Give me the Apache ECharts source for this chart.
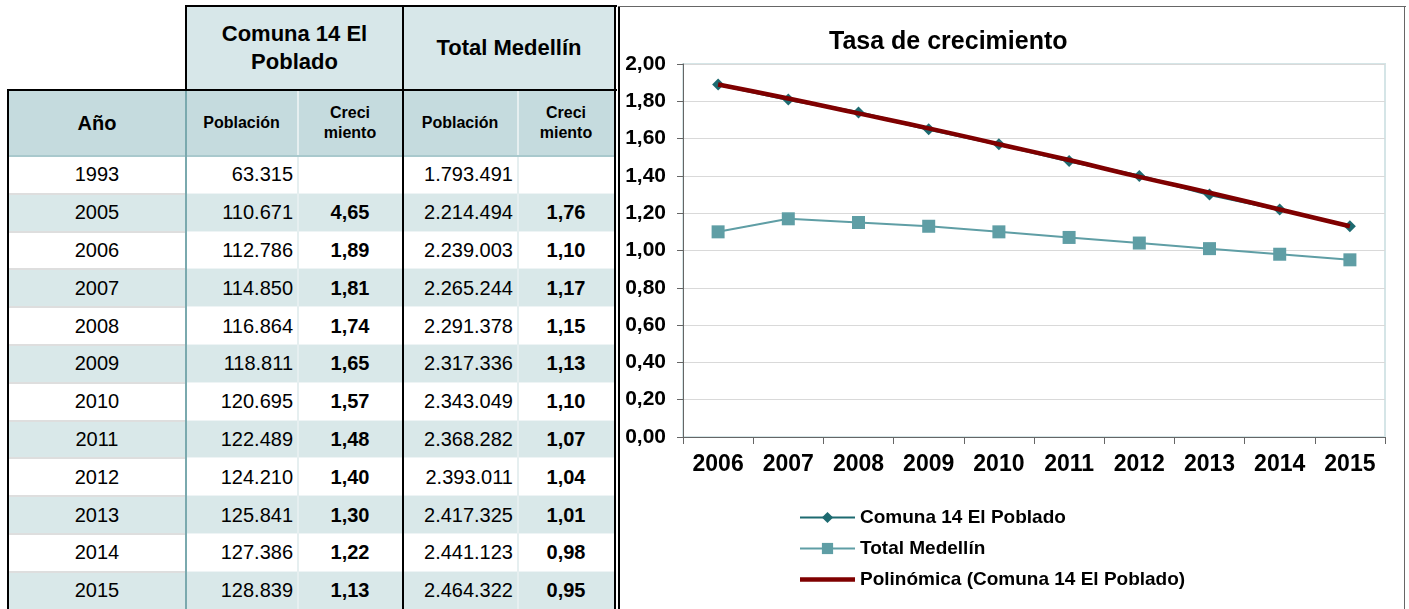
<!DOCTYPE html>
<html>
<head>
<meta charset="utf-8">
<script src="https://cdn.jsdelivr.net/npm/echarts@6/dist/echarts.min.js"></script>
<style>
  body { margin: 0; width: 1409px; height: 609px; background: #fff; position: relative; overflow: hidden;
         font-family: "Liberation Sans", Arial, sans-serif; color: #000; }
  .cell { position: absolute; box-sizing: border-box; display: flex; align-items: center; justify-content: center; }
  .line { position: absolute; }
  #chart { position: absolute; left: 619px; top: 7px; width: 786px; height: 602px; }
</style>
</head>
<body>
<div id="tabla"></div>
<div id="chart"></div>
<script>
// datos de la tabla
const anios = ['1993', '2005', '2006', '2007', '2008', '2009', '2010', '2011', '2012', '2013', '2014', '2015']
const poblacionComuna = [63315, 110671, 112786, 114850, 116864, 118811, 120695, 122489, 124210, 125841, 127386, 128839]
const crecimientoComuna = [null, 4.65, 1.89, 1.81, 1.74, 1.65, 1.57, 1.48, 1.40, 1.30, 1.22, 1.13]
const poblacionMedellin = [1793491, 2214494, 2239003, 2265244, 2291378, 2317336, 2343049, 2368282, 2393011, 2417325, 2441123, 2464322]
const crecimientoMedellin = [null, 1.76, 1.10, 1.17, 1.15, 1.13, 1.10, 1.07, 1.04, 1.01, 0.98, 0.95]

// datos del grafico
const categorias = ['2006', '2007', '2008', '2009', '2010', '2011', '2012', '2013', '2014', '2015']
const tasaComuna = crecimientoComuna.slice(2)
const tasaMedellin = crecimientoMedellin.slice(2)
// linea de tendencia polinómica
const tendencia = [1.89, 1.815, 1.735, 1.655, 1.57, 1.485, 1.395, 1.31, 1.22, 1.13]
const ticksY = [0, 0.2, 0.4, 0.6, 0.8, 1.0, 1.2, 1.4, 1.6, 1.8, 2.0]

const miles = n => String(n).replace(/\B(?=(\d{3})+(?!\d))/g, '.')
const coma = v => v == null ? '' : v.toFixed(2).replace('.', ',')

// ---- tabla ----
const tabla = document.getElementById('tabla')
function cell(x, y, w, h, html, style) {
  const d = document.createElement('div')
  d.className = 'cell'
  d.style.cssText = `left:${x}px;top:${y}px;width:${w}px;height:${h}px;` + (style || '')
  d.innerHTML = html
  tabla.appendChild(d)
}
function line(x, y, w, h, color) {
  const d = document.createElement('div')
  d.className = 'line'
  d.style.cssText = `left:${x}px;top:${y}px;width:${w}px;height:${h}px;background:${color};`
  tabla.appendChild(d)
}
const cols = [8, 186, 297, 403, 517, 615]
const rowH = 37.8
const top0 = 156
const bgHead1 = '#d7e7e9'
const bgHead2 = '#c5dbde'
const bgAlt = '#d9e8e9'

cell(186, 6, 217, 84, 'Comuna 14 El<br>Poblado', `background:${bgHead1};font-weight:bold;font-size:22px;text-align:center;line-height:28px;`)
cell(403, 6, 212, 84, 'Total Medellín', `background:${bgHead1};font-weight:bold;font-size:22px;`)
const head2 = ['Año', 'Población', 'Creci<br>miento', 'Población', 'Creci<br>miento']
head2.forEach((t, i) => {
  cell(cols[i], 90, cols[i + 1] - cols[i], 66, t,
    `background:${bgHead2};font-weight:bold;text-align:center;line-height:20px;font-size:${i === 0 ? 20 : 16}px;`)
})

anios.forEach((a, r) => {
  const y = top0 + r * rowH
  const bg = r % 2 === 1 ? bgAlt : '#fff'
  cell(8, y, 178, rowH, a, `background:${bg};font-size:20px;`)
  cell(186, y, 111, rowH, miles(poblacionComuna[r]), `background:${bg};font-size:20px;justify-content:flex-end;padding-right:4px;`)
  cell(297, y, 106, rowH, coma(crecimientoComuna[r]), `background:${bg};font-size:20px;font-weight:bold;`)
  cell(403, y, 114, rowH, miles(poblacionMedellin[r]), `background:${bg};font-size:20px;justify-content:flex-end;padding-right:4px;`)
  cell(517, y, 98, rowH, coma(crecimientoMedellin[r]), `background:${bg};font-size:20px;font-weight:bold;`)
  line(8, y - 1, 178, 2, '#dedede')
  line(186, y - 1, 429, 1, '#eef4f5')
})
line(297, 90, 2, 519, '#e6eff0')
line(517, 90, 2, 519, '#e6eff0')
line(8, 155, 607, 2, '#a9c9cd')
line(185, 90, 2, 519, '#7aa9ae')
// bordes negros
line(185, 5, 2, 86, '#000')
line(185, 5, 432, 2, '#000')
line(7, 89, 610, 2, '#000')
line(7, 89, 2, 520, '#000')
line(402, 5, 2, 604, '#000')
line(614, 5, 2, 604, '#000')
// marco del grafico
line(618, 6, 2, 603, '#000')
line(618, 6, 788, 1, '#666')
line(1404, 6, 1, 603, '#666')

// ---- grafico ----
const chart = echarts.init(document.getElementById('chart'))
const fuente = '"Liberation Sans", Arial, sans-serif'
chart.setOption({
  animation: false,
  textStyle: { fontFamily: fuente },
  title: {
    text: 'Tasa de crecimiento',
    left: 205,
    top: 18,
    textStyle: { fontSize: 25, fontWeight: 'bold', color: '#000', fontFamily: fuente }
  },
  grid: {
    left: 64,
    right: 20,
    top: 57,
    height: 373,
    show: true,
    borderColor: '#d5e5e7',
    borderWidth: 2
  },
  legend: {
    orient: 'vertical',
    left: 175,
    top: 496,
    itemWidth: 55,
    itemHeight: 14,
    itemGap: 12,
    textStyle: { fontSize: 19, fontWeight: 'bold', color: '#000', fontFamily: fuente },
    data: [
      'Comuna 14 El Poblado',
      'Total Medellín',
      { name: 'Polinómica (Comuna 14 El Poblado)', icon: 'path://M0,0 H55 V4.5 H0 Z' }
    ]
  },
  xAxis: {
    type: 'category',
    data: categorias,
    boundaryGap: true,
    axisLine: { lineStyle: { color: '#666', width: 1 } },
    axisTick: { show: true, length: 7, lineStyle: { color: '#666' } },
    axisLabel: { fontSize: 23, fontWeight: 'bold', color: '#000', margin: 16, fontFamily: fuente }
  },
  yAxis: {
    type: 'value',
    min: 0,
    max: 2,
    interval: 0.2,
    axisLine: { show: true, lineStyle: { color: '#666', width: 1 } },
    axisTick: { show: true, length: 6, lineStyle: { color: '#666' } },
    splitLine: { lineStyle: { color: '#d9d9d9', width: 1 } },
    axisLabel: {
      fontSize: 21, fontWeight: 'bold', color: '#000', margin: 17, fontFamily: fuente,
      formatter: v => ticksY.indexOf(Math.round(v * 10) / 10) >= 0 ? coma(v) : ''
    }
  },
  series: [
    {
      name: 'Comuna 14 El Poblado',
      type: 'line',
      data: tasaComuna,
      symbol: 'diamond',
      symbolSize: 12,
      z: 3,
      itemStyle: { color: '#1d6a70' },
      lineStyle: { color: '#1d6a70', width: 3 }
    },
    {
      name: 'Total Medellín',
      type: 'line',
      data: tasaMedellin,
      symbol: 'rect',
      symbolSize: 13,
      z: 2,
      itemStyle: { color: '#5f9ea5' },
      lineStyle: { color: '#5f9ea5', width: 2 }
    },
    {
      name: 'Polinómica (Comuna 14 El Poblado)',
      type: 'line',
      data: tendencia,
      symbol: 'none',
      smooth: true,
      z: 4,
      itemStyle: { color: '#7f0000' },
      lineStyle: { color: '#7f0000', width: 4.5 }
    }
  ]
})
</script>
</body>
</html>
